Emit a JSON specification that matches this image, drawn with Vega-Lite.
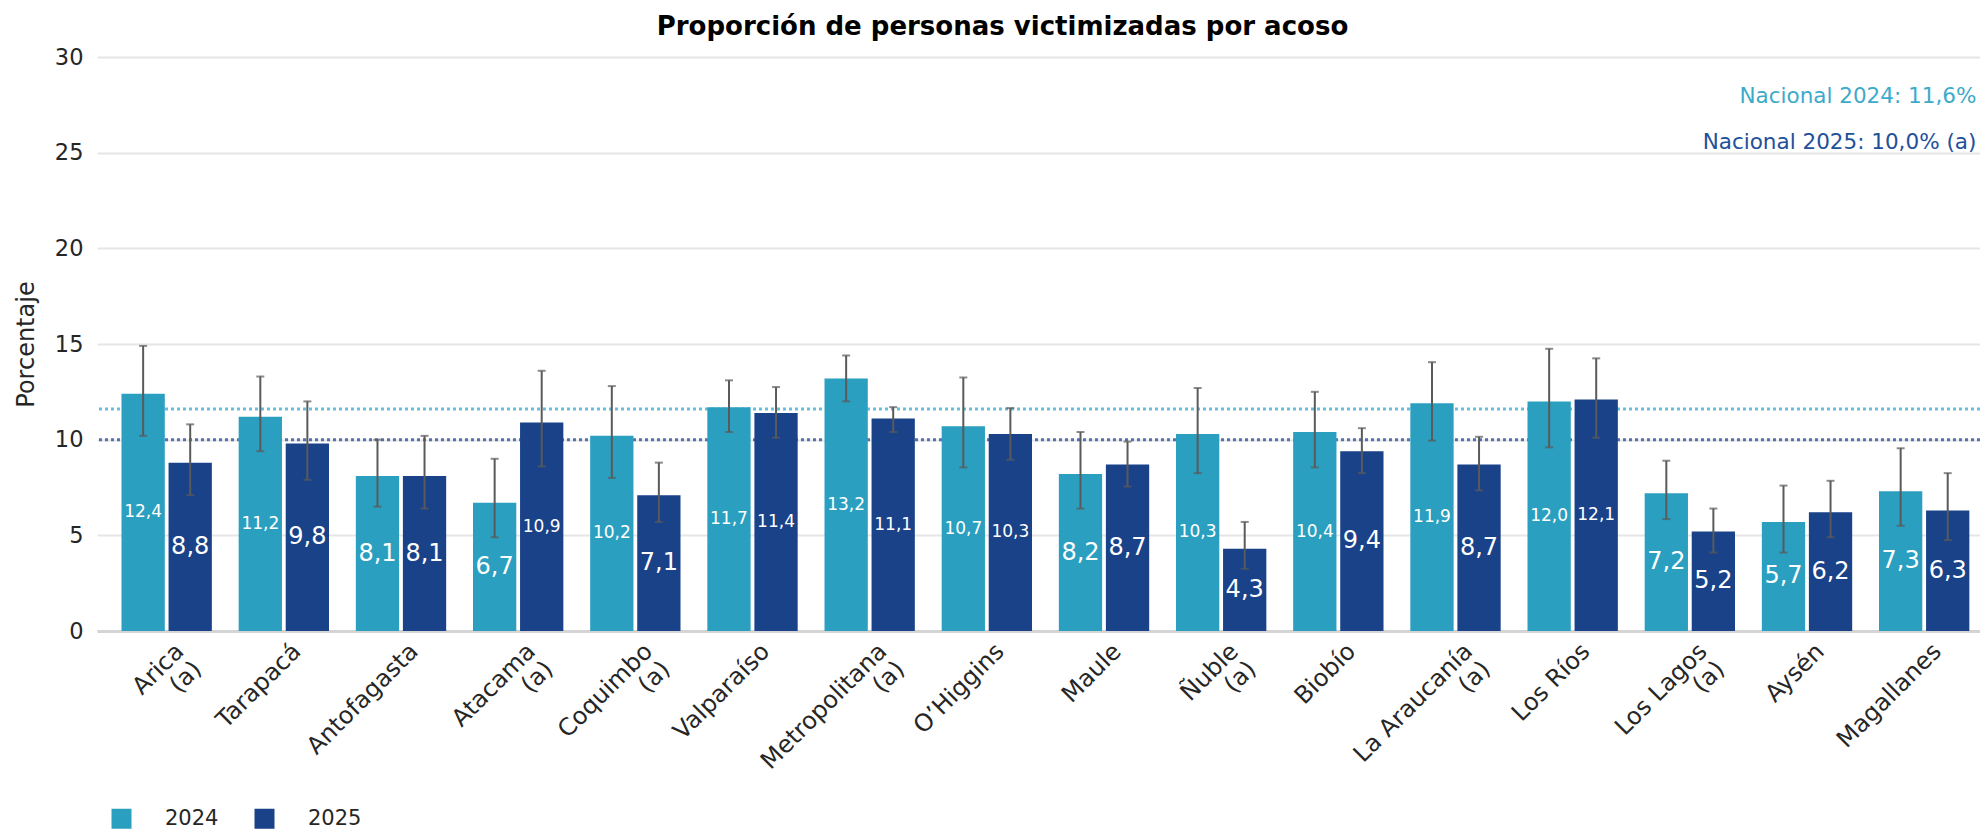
{
  "$schema": "https://vega.github.io/schema/vega-lite/v6.json",
  "autosize": {"type": "none"},
  "width": 1883,
  "height": 574,
  "padding": {"left": 97, "top": 57, "right": 0, "bottom": 202},
  "title": {"text": "Proporción de personas victimizadas por acoso", "fontSize": 26, "fontWeight": "bold", "color": "#000000", "dx": -36, "dy": 29, "offset": 14, "baseline": "alphabetic", "font": "DejaVu Sans"},
  "config": {
    "font": "DejaVu Sans",
    "view": {"stroke": null},
    "axis": {"labelColor": "#262626", "titleColor": "#262626", "labelFont": "DejaVu Sans", "titleFont": "DejaVu Sans"}
  },
  "datasets": {
    "main": [
      {"region": "Arica|(a)", "year": "2024", "value": 12.4, "label": "12,4", "lo": 10.2, "hi": 14.9},
      {"region": "Arica|(a)", "year": "2025", "value": 8.8, "label": "8,8", "lo": 7.1, "hi": 10.8},
      {"region": "Tarapacá", "year": "2024", "value": 11.2, "label": "11,2", "lo": 9.4, "hi": 13.3},
      {"region": "Tarapacá", "year": "2025", "value": 9.8, "label": "9,8", "lo": 7.9, "hi": 12.0},
      {"region": "Antofagasta", "year": "2024", "value": 8.1, "label": "8,1", "lo": 6.5, "hi": 10.0},
      {"region": "Antofagasta", "year": "2025", "value": 8.1, "label": "8,1", "lo": 6.4, "hi": 10.2},
      {"region": "Atacama|(a)", "year": "2024", "value": 6.7, "label": "6,7", "lo": 4.9, "hi": 9.0},
      {"region": "Atacama|(a)", "year": "2025", "value": 10.9, "label": "10,9", "lo": 8.6, "hi": 13.6},
      {"region": "Coquimbo|(a)", "year": "2024", "value": 10.2, "label": "10,2", "lo": 8.0, "hi": 12.8},
      {"region": "Coquimbo|(a)", "year": "2025", "value": 7.1, "label": "7,1", "lo": 5.7, "hi": 8.8},
      {"region": "Valparaíso", "year": "2024", "value": 11.7, "label": "11,7", "lo": 10.4, "hi": 13.1},
      {"region": "Valparaíso", "year": "2025", "value": 11.4, "label": "11,4", "lo": 10.1, "hi": 12.75},
      {"region": "Metropolitana|(a)", "year": "2024", "value": 13.2, "label": "13,2", "lo": 12.0, "hi": 14.4},
      {"region": "Metropolitana|(a)", "year": "2025", "value": 11.1, "label": "11,1", "lo": 10.4, "hi": 11.7},
      {"region": "O’Higgins", "year": "2024", "value": 10.7, "label": "10,7", "lo": 8.55, "hi": 13.25},
      {"region": "O’Higgins", "year": "2025", "value": 10.3, "label": "10,3", "lo": 8.95, "hi": 11.65},
      {"region": "Maule", "year": "2024", "value": 8.2, "label": "8,2", "lo": 6.4, "hi": 10.4},
      {"region": "Maule", "year": "2025", "value": 8.7, "label": "8,7", "lo": 7.55, "hi": 9.9},
      {"region": "Ñuble|(a)", "year": "2024", "value": 10.3, "label": "10,3", "lo": 8.25, "hi": 12.7},
      {"region": "Ñuble|(a)", "year": "2025", "value": 4.3, "label": "4,3", "lo": 3.25, "hi": 5.7},
      {"region": "Biobío", "year": "2024", "value": 10.4, "label": "10,4", "lo": 8.55, "hi": 12.5},
      {"region": "Biobío", "year": "2025", "value": 9.4, "label": "9,4", "lo": 8.25, "hi": 10.6},
      {"region": "La Araucanía|(a)", "year": "2024", "value": 11.9, "label": "11,9", "lo": 9.95, "hi": 14.05},
      {"region": "La Araucanía|(a)", "year": "2025", "value": 8.7, "label": "8,7", "lo": 7.35, "hi": 10.15},
      {"region": "Los Ríos", "year": "2024", "value": 12.0, "label": "12,0", "lo": 9.6, "hi": 14.75},
      {"region": "Los Ríos", "year": "2025", "value": 12.1, "label": "12,1", "lo": 10.1, "hi": 14.25},
      {"region": "Los Lagos|(a)", "year": "2024", "value": 7.2, "label": "7,2", "lo": 5.85, "hi": 8.9},
      {"region": "Los Lagos|(a)", "year": "2025", "value": 5.2, "label": "5,2", "lo": 4.1, "hi": 6.4},
      {"region": "Aysén", "year": "2024", "value": 5.7, "label": "5,7", "lo": 4.1, "hi": 7.6},
      {"region": "Aysén", "year": "2025", "value": 6.2, "label": "6,2", "lo": 4.9, "hi": 7.85},
      {"region": "Magallanes", "year": "2024", "value": 7.3, "label": "7,3", "lo": 5.5, "hi": 9.55},
      {"region": "Magallanes", "year": "2025", "value": 6.3, "label": "6,3", "lo": 4.75, "hi": 8.25}
    ]
  },
  "layer": [
    {
      "layer": [
        {
          "data": {"values": [{}]},
          "mark": {"type": "rule", "color": "#66BFDC", "strokeWidth": 3, "strokeDash": [3, 3]},
          "encoding": {"y": {"datum": 11.6, "type": "quantitative", "scale": {"domain": [0, 30], "nice": false}, "title": "Porcentaje"}}
        },
        {
          "data": {"values": [{}]},
          "mark": {"type": "rule", "color": "#5672AF", "strokeWidth": 3, "strokeDash": [3, 3]},
          "encoding": {"y": {"datum": 10, "type": "quantitative", "title": "Porcentaje"}}
        },
        {
          "data": {"name": "main"},
          "mark": {"type": "bar"},
          "encoding": {
            "x": {"field": "region", "type": "nominal", "sort": null, "title": null,
              "scale": {"domain": ["Arica|(a)", "Tarapacá", "Antofagasta", "Atacama|(a)", "Coquimbo|(a)", "Valparaíso", "Metropolitana|(a)", "O’Higgins", "Maule", "Ñuble|(a)", "Biobío", "La Araucanía|(a)", "Los Ríos", "Los Lagos|(a)", "Aysén", "Magallanes"], "paddingInner": 0.229, "paddingOuter": 0.15, "align": 0.697},
              "axis": {"labelExpr": "split(datum.value, '|')", "labelAngle": -45, "labelFontSize": 24, "labelLineHeight": 25, "labelPadding": 8, "labelOffset": 5, "ticks": false, "domainColor": "#D4D4D4", "domainWidth": 3, "grid": false, "labelColor": "#262626"}},
            "xOffset": {"field": "year", "type": "nominal", "scale": {"paddingInner": 0.08}},
            "y": {"field": "value", "type": "quantitative", "scale": {"domain": [0, 30], "nice": false}, "title": "Porcentaje",
              "axis": {"values": [0, 5, 10, 15, 20, 25, 30], "grid": true, "gridColor": "#E6E6E6", "gridWidth": 2, "domain": false, "ticks": false, "labelFontSize": 22.5, "labelPadding": 14, "titleFontSize": 24, "titleFontWeight": "normal", "titlePadding": 16}},
            "color": {"field": "year", "type": "nominal", "scale": {"range": ["#2A9FC0", "#1A4288"]},
              "legend": {"orient": "none", "legendX": 14, "legendY": 751, "direction": "horizontal", "title": null, "symbolType": "square", "symbolSize": 400, "symbolStrokeWidth": 0, "labelFontSize": 21, "labelOffset": 33, "columnPadding": 35, "padding": 0, "labelColor": "#262626"}}
          }
        },
        {
          "data": {"name": "main"},
          "mark": {"type": "rule", "color": "#5A5A5A", "strokeWidth": 2},
          "encoding": {
            "x": {"field": "region", "type": "nominal", "sort": null, "title": null},
            "xOffset": {"field": "year", "type": "nominal"},
            "y": {"field": "lo", "type": "quantitative", "title": "Porcentaje"},
            "y2": {"field": "hi"}
          }
        },
        {
          "data": {"name": "main"},
          "mark": {"type": "tick", "color": "#5A5A5A", "thickness": 2, "size": 8},
          "encoding": {
            "x": {"field": "region", "type": "nominal", "sort": null, "title": null},
            "xOffset": {"field": "year", "type": "nominal"},
            "y": {"field": "lo", "type": "quantitative", "title": "Porcentaje"}
          }
        },
        {
          "data": {"name": "main"},
          "mark": {"type": "tick", "color": "#5A5A5A", "thickness": 2, "size": 8},
          "encoding": {
            "x": {"field": "region", "type": "nominal", "sort": null, "title": null},
            "xOffset": {"field": "year", "type": "nominal"},
            "y": {"field": "hi", "type": "quantitative", "title": "Porcentaje"}
          }
        },
        {
          "data": {"values": [{}]},
          "mark": {"type": "text", "text": "Nacional 2024: 11,6%", "align": "right", "baseline": "alphabetic", "dx": 7, "fontSize": 21.5, "color": "#3DAACA"},
          "encoding": {
            "x": {"datum": "Magallanes", "type": "nominal", "bandPosition": 1, "title": null},
            "y": {"datum": 27.6, "type": "quantitative", "title": "Porcentaje"}
          }
        },
        {
          "data": {"values": [{}]},
          "mark": {"type": "text", "text": "Nacional 2025: 10,0% (a)", "align": "right", "baseline": "alphabetic", "dx": 7, "fontSize": 21.5, "color": "#23509A"},
          "encoding": {
            "x": {"datum": "Magallanes", "type": "nominal", "bandPosition": 1, "title": null},
            "y": {"datum": 25.2, "type": "quantitative", "title": "Porcentaje"}
          }
        }
      ]
    },
    {
      "data": {"name": "main"},
      "mark": {"type": "text", "color": "#FFFFFF", "baseline": "middle", "align": "center"},
      "encoding": {
        "x": {"field": "region", "type": "nominal", "sort": null, "title": null},
        "xOffset": {"field": "year", "type": "nominal"},
        "y": {"field": "value", "type": "quantitative", "scale": {"domain": [0, 60], "nice": false}, "axis": null},
        "text": {"field": "label"},
        "size": {"condition": {"test": "datum.value >= 10", "value": 17}, "value": 24}
      }
    }
  ],
  "resolve": {"scale": {"y": "independent"}}
}
